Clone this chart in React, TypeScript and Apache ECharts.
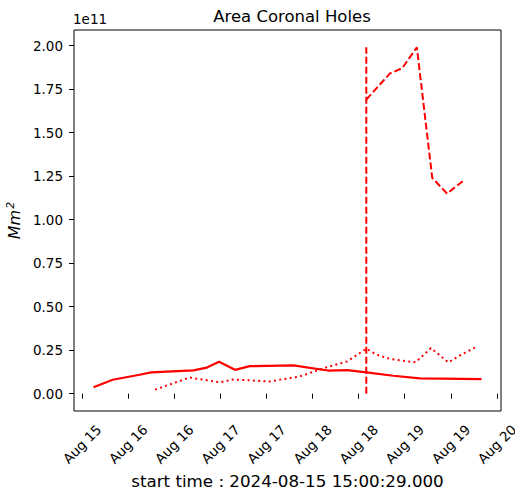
import React, { useEffect, useRef } from "react";
import * as echarts from "echarts";

// Area of coronal holes (Mm^2)
const solidTimes = [
  "2024-08-15T15:00Z", "2024-08-15T20:00Z", "2024-08-16T03:00Z", "2024-08-16T06:00Z",
  "2024-08-16T17:00Z", "2024-08-16T20:30Z", "2024-08-16T23:40Z", "2024-08-17T03:50Z",
  "2024-08-17T07:40Z", "2024-08-17T19:00Z", "2024-08-18T04:00Z", "2024-08-18T09:00Z",
  "2024-08-18T14:00Z", "2024-08-18T21:00Z", "2024-08-19T04:00Z", "2024-08-19T20:00Z",
];
const solidValues = [
  3.7e9, 8.0e9, 1.09e10, 1.22e10,
  1.34e10, 1.5e10, 1.83e10, 1.37e10,
  1.58e10, 1.63e10, 1.33e10, 1.35e10,
  1.22e10, 1.03e10, 8.8e9, 8.4e9,
];

const dottedTimes = [
  "2024-08-16T07:00Z", "2024-08-16T16:00Z", "2024-08-16T23:50Z", "2024-08-17T03:20Z",
  "2024-08-17T12:50Z", "2024-08-17T20:40Z", "2024-08-18T03:50Z", "2024-08-18T09:00Z",
  "2024-08-18T14:00Z", "2024-08-18T16:50Z", "2024-08-18T20:20Z", "2024-08-19T02:50Z",
  "2024-08-19T06:50Z", "2024-08-19T11:20Z", "2024-08-19T14:40Z", "2024-08-19T19:00Z",
];
const dottedValues = [
  2.3e9, 9.3e9, 6.5e9, 8.2e9,
  7.0e9, 9.9e9, 1.53e10, 1.85e10,
  2.58e10, 2.23e10, 1.99e10, 1.8e10,
  2.62e10, 1.8e10, 2.23e10, 2.73e10,
];

// vertical jump of the dashed series
const dashedJumpTimes = ["2024-08-18T14:00Z", "2024-08-18T14:00Z"];
const dashedJumpValues = [0, 1.99e11];

const dashedTimes = [
  "2024-08-18T14:00Z", "2024-08-18T20:10Z", "2024-08-18T23:20Z", "2024-08-19T03:10Z",
  "2024-08-19T07:10Z", "2024-08-19T11:00Z", "2024-08-19T15:40Z",
];
const dashedValues = [
  1.69e11, 1.84e11, 1.87e11, 1.99e11,
  1.24e11, 1.15e11, 1.23e11,
];

const xTickTimes = [
  "2024-08-15T12:00Z", "2024-08-16T00:00Z", "2024-08-16T12:00Z", "2024-08-17T00:00Z",
  "2024-08-17T12:00Z", "2024-08-18T00:00Z", "2024-08-18T12:00Z", "2024-08-19T00:00Z",
  "2024-08-19T12:00Z", "2024-08-20T00:00Z",
];
const xTickLabels = [
  "Aug 15", "Aug 16", "Aug 16", "Aug 17", "Aug 17",
  "Aug 18", "Aug 18", "Aug 19", "Aug 19", "Aug 20",
];
const yTicks = [0, 0.25e11, 0.5e11, 0.75e11, 1.0e11, 1.25e11, 1.5e11, 1.75e11, 2.0e11];
const yTickLabels = ["0.00", "0.25", "0.50", "0.75", "1.00", "1.25", "1.50", "1.75", "2.00"];

const X_MIN = "2024-08-15T09:55Z";
const X_MAX = "2024-08-20T01:04Z";
const Y_MIN = -0.0995e11;
const Y_MAX = 2.0895e11;

const FONT = "DejaVu Sans";
const t = (s: string) => Date.parse(s);
const pairs = (ts: string[], vs: number[]) => ts.map((s, i) => [t(s), vs[i]]);

export default function App() {
  const ref = useRef<HTMLDivElement>(null);
  useEffect(() => {
    if (!ref.current) return;
    const chart = echarts.init(ref.current, null, { renderer: "svg" });
    const xTickVals = xTickTimes.map(t);
    const red = "#ff0000";
    chart.setOption({
      animation: false,
      backgroundColor: "#ffffff",
      title: {
        text: "Area Coronal Holes",
        left: 287,
        top: 3,
        textAlign: "center",
        textStyle: { fontFamily: FONT, fontSize: 16.5, fontWeight: "normal", color: "#000" },
      },
      grid: {
        left: 74, right: 14, top: 30, bottom: 82,
        containLabel: false,
        outerBoundsMode: "none",
        show: true, borderColor: "#000", borderWidth: 1, backgroundColor: "transparent",
      },
      graphic: [
        {
          type: "text",
          left: 73,
          top: 12,
          style: { text: "1e11", font: `13.5px "${FONT}"`, fill: "#000" },
        },
      ],
      xAxis: {
        type: "value",
        min: t(X_MIN),
        max: t(X_MAX),
        axisLine: { show: false },
        splitLine: { show: false },
        axisTick: {
          show: true, inside: false, length: 5,
          lineStyle: { color: "#000", width: 1 },
          customValues: xTickVals,
        },
        axisLabel: {
          customValues: xTickVals,
          rotate: 45,
          align: "center",
          verticalAlign: "middle",
          margin: 33,
          fontFamily: FONT,
          fontSize: 13.5,
          color: "#000",
          formatter: (v: number) => {
            const i = xTickVals.indexOf(v);
            return i >= 0 ? xTickLabels[i] : "";
          },
        },
        name: "start time : 2024-08-15 15:00:29.000",
        nameLocation: "middle",
        nameGap: 60,
        nameTextStyle: { fontFamily: FONT, fontSize: 16.7, color: "#000" },
      },
      yAxis: {
        type: "value",
        min: Y_MIN,
        max: Y_MAX,
        axisLine: { show: false },
        splitLine: { show: false },
        axisTick: {
          show: true, inside: false, length: 5,
          lineStyle: { color: "#000", width: 1 },
          customValues: yTicks,
        },
        axisLabel: {
          customValues: yTicks,
          margin: 11,
          fontFamily: FONT,
          fontSize: 13.5,
          color: "#000",
          formatter: (v: number) => {
            const i = yTicks.findIndex((y) => Math.abs(y - v) < 1e3);
            return i >= 0 ? yTickLabels[i] : "";
          },
        },
        name: "{i|Mm}{s|2}",
        nameLocation: "middle",
        nameGap: 50,
        nameTextStyle: {
          color: "#000",
          rich: {
            i: { fontFamily: FONT, fontSize: 16, fontStyle: "italic", color: "#000" },
            s: { fontFamily: FONT, fontSize: 11, fontStyle: "italic", color: "#000", verticalAlign: "top", padding: [0, 0, 8, 1] },
          },
        },
      },
      series: [
        {
          type: "line",
          data: pairs(solidTimes, solidValues),
          showSymbol: false,
          symbol: "none",
          lineStyle: { color: red, width: 2.2, type: "solid" },
        },
        {
          type: "line",
          data: pairs(dottedTimes, dottedValues),
          showSymbol: false,
          symbol: "none",
          lineStyle: { color: red, width: 2, type: [2, 3.3] },
        },
        {
          type: "line",
          data: pairs(dashedJumpTimes, dashedJumpValues),
          showSymbol: false,
          symbol: "none",
          lineStyle: { color: red, width: 2, type: [7, 3] },
        },
        {
          type: "line",
          data: pairs(dashedTimes, dashedValues),
          showSymbol: false,
          symbol: "none",
          lineStyle: { color: red, width: 2, type: [7, 3] },
        },
      ],
    });
    return () => chart.dispose();
  }, []);
  return (
    <div
      ref={ref}
      style={{ position: "fixed", left: 0, top: 0, width: 515, height: 493, background: "#fff" }}
    />
  );
}
